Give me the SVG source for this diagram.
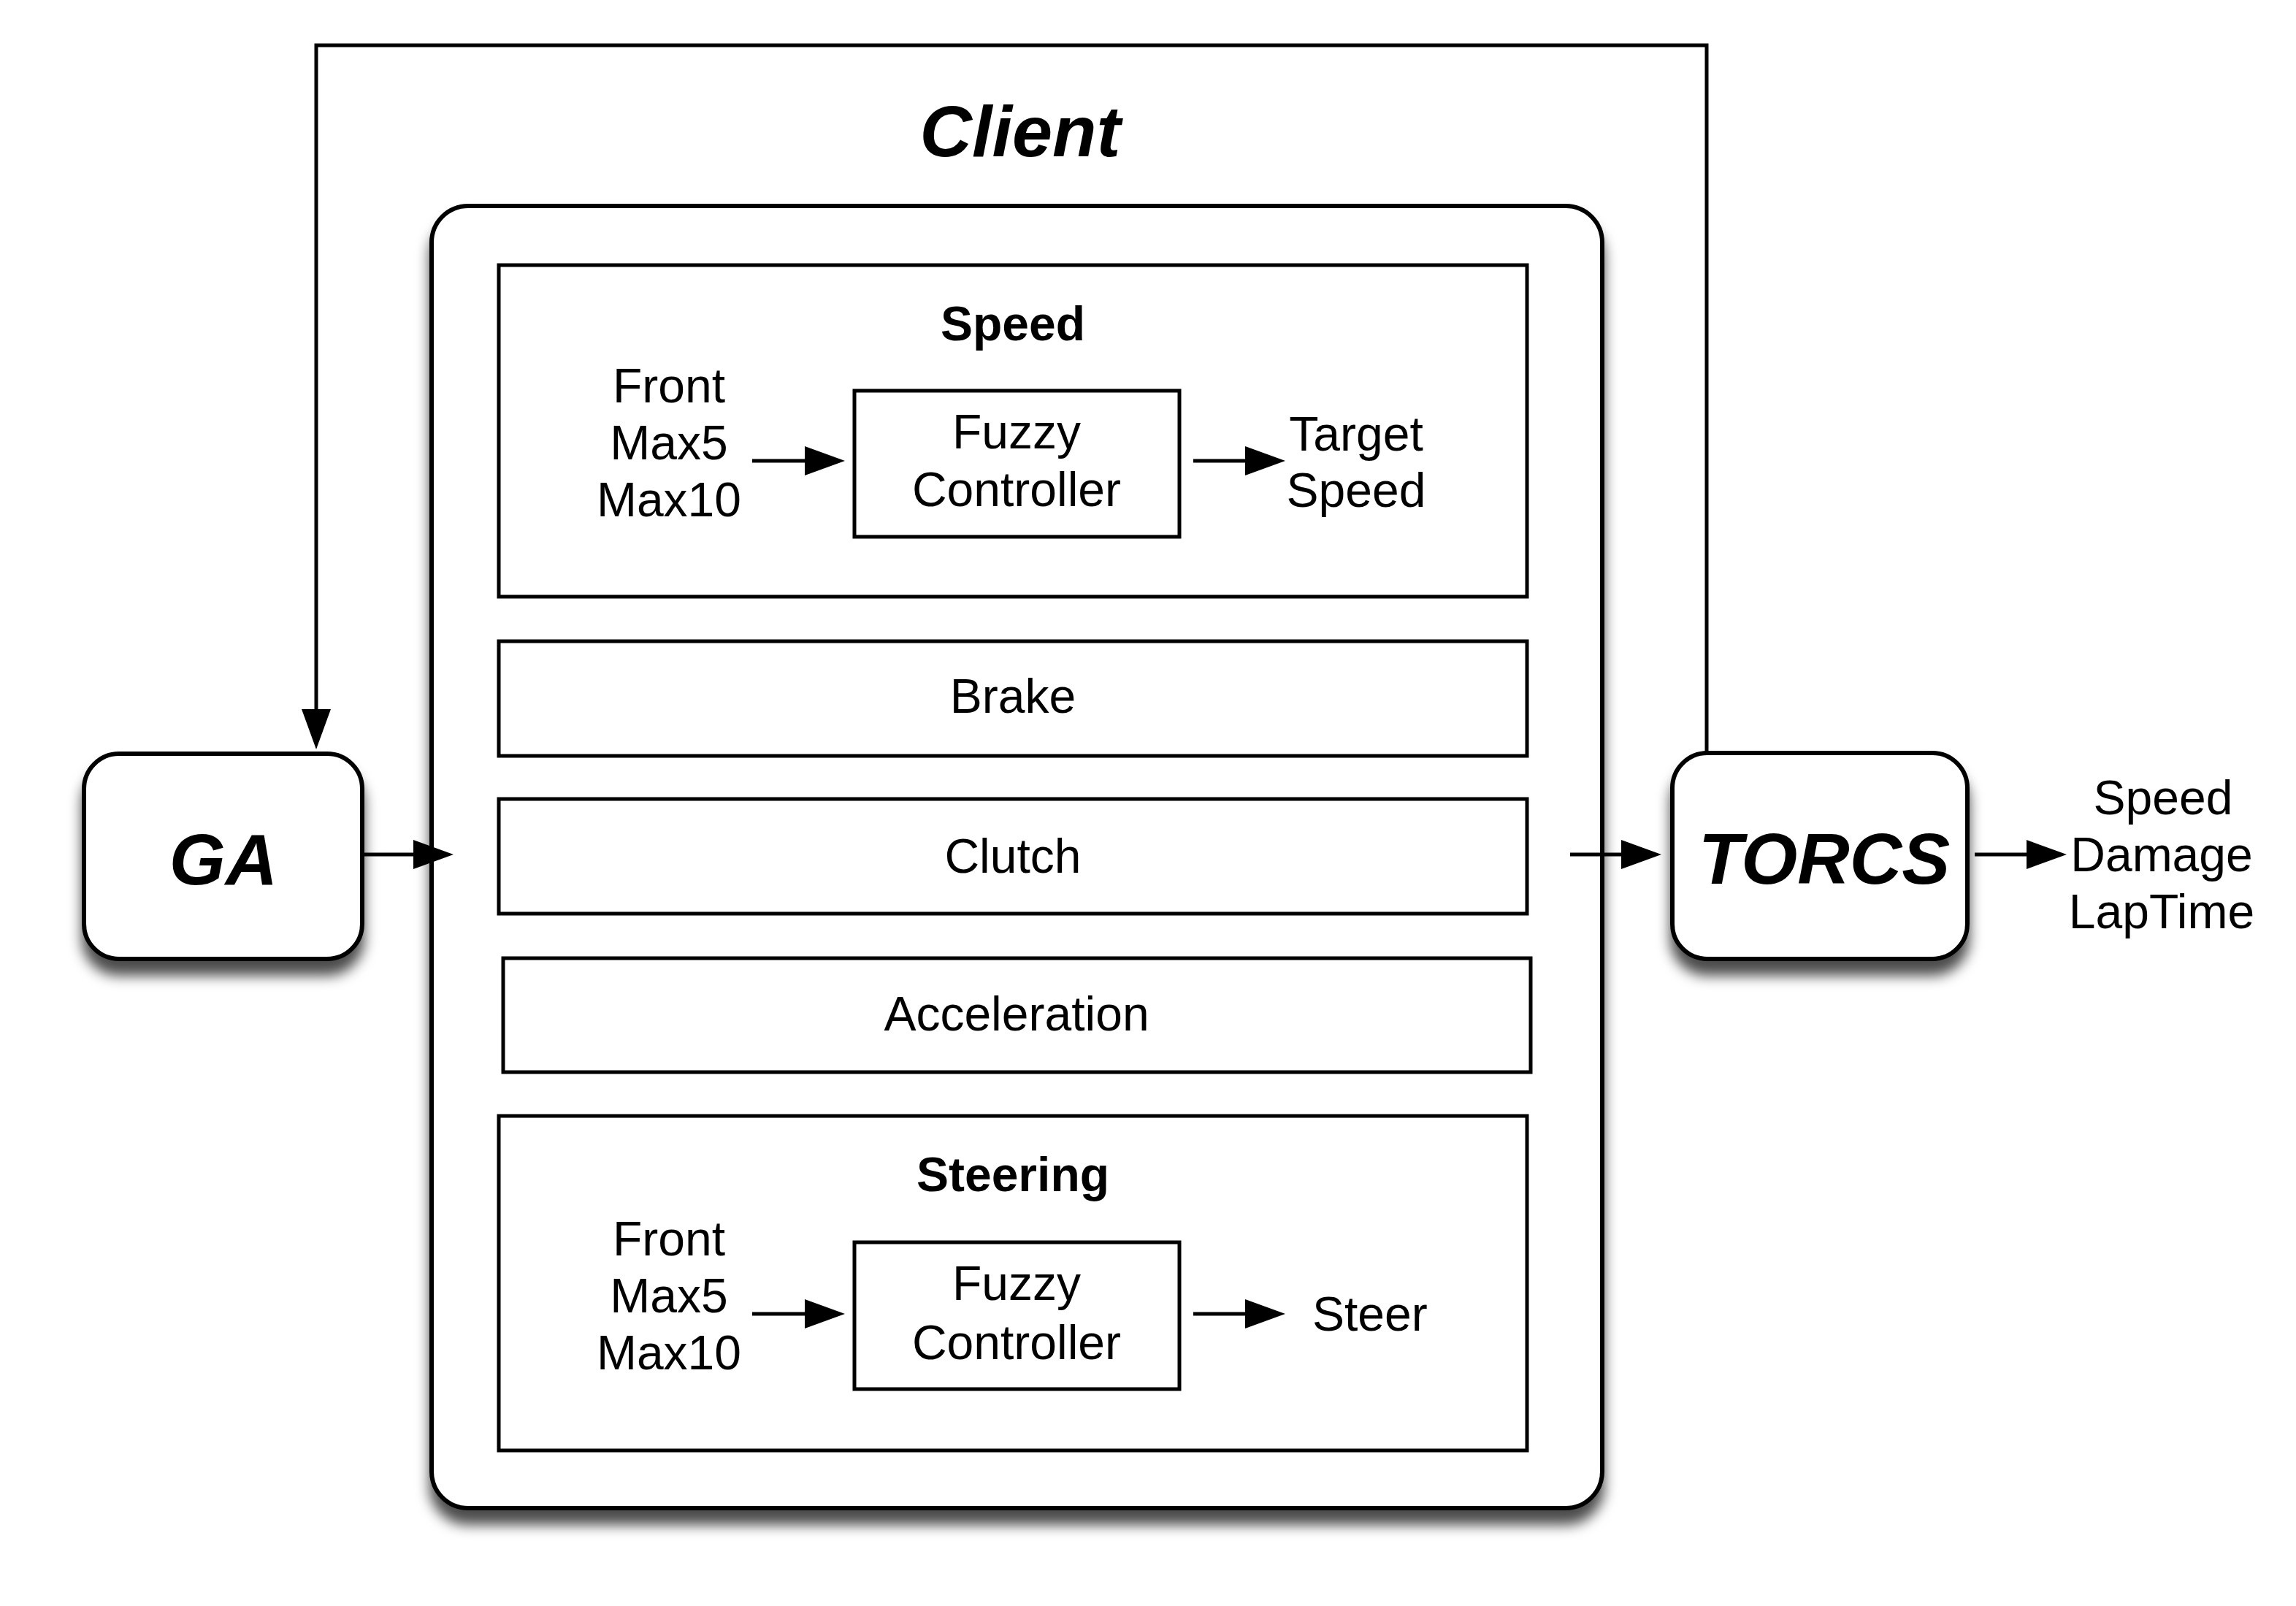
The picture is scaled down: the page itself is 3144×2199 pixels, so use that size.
<svg xmlns="http://www.w3.org/2000/svg" width="3144" height="2199" viewBox="0 0 3144 2199">
<style>
.box{fill:#fff;stroke:#000;stroke-width:5}
.rbox{fill:#fff;stroke:#000;stroke-width:6;filter:url(#shadow)}
.con{fill:none;stroke:#000;stroke-width:5;marker-end:url(#arrow)}
text{font-family:"Liberation Sans",Arial,Helvetica,sans-serif;fill:#000;text-anchor:middle}
.t{font-size:66px}
.b{font-size:66px;font-weight:bold}
.big{font-size:99px;font-weight:bold;font-style:italic}
</style>
<defs>
<filter id="shadow" x="-10%" y="-10%" width="120%" height="130%">
<feDropShadow dx="0" dy="20" stdDeviation="9" flood-color="#000" flood-opacity="0.7"/>
</filter>
<marker id="arrow" markerUnits="userSpaceOnUse" markerWidth="55" markerHeight="40" viewBox="0 0 55 40" refX="35" refY="20" orient="auto">
<path d="M0,0 L55,20 L0,40 Z" fill="#000"/>
</marker>
</defs>
<rect width="3144" height="2199" fill="#fff"/>
<g id="client">
<rect class="rbox" x="591" y="282" width="1603" height="1783" rx="50"/>
<text class="big" x="1397" y="214">Client</text>
</g>
<g id="speed">
<rect class="box" x="683" y="363" width="1408" height="454"/>
<text class="b" x="1387" y="466">Speed</text>
<text class="t" x="916" y="551">Front</text>
<text class="t" x="916" y="629">Max5</text>
<text class="t" x="916" y="707">Max10</text>
<text class="t" x="1857" y="617">Target</text>
<text class="t" x="1857" y="694">Speed</text>
</g>
<g id="speed-fuzzy">
<rect class="box" x="1170" y="535" width="445" height="200"/>
<text class="t" x="1392" y="614">Fuzzy</text>
<text class="t" x="1392" y="693">Controller</text>
</g>
<g id="brake">
<rect class="box" x="683" y="878" width="1408" height="157"/>
<text class="t" x="1387" y="976">Brake</text>
</g>
<g id="clutch">
<rect class="box" x="683" y="1094" width="1408" height="157"/>
<text class="t" x="1387" y="1195">Clutch</text>
</g>
<g id="acceleration">
<rect class="box" x="689" y="1312" width="1407" height="156"/>
<text class="t" x="1392" y="1411">Acceleration</text>
</g>
<g id="steering">
<rect class="box" x="683" y="1528" width="1408" height="458"/>
<text class="b" x="1387" y="1631">Steering</text>
<text class="t" x="916" y="1719">Front</text>
<text class="t" x="916" y="1797">Max5</text>
<text class="t" x="916" y="1875">Max10</text>
<text class="t" x="1797" y="1822" style="text-anchor:start">Steer</text>
</g>
<g id="steering-fuzzy">
<rect class="box" x="1170" y="1701" width="445" height="201"/>
<text class="t" x="1392" y="1780">Fuzzy</text>
<text class="t" x="1392" y="1861">Controller</text>
</g>
<g id="ga">
<rect class="rbox" x="115" y="1032" width="381" height="281" rx="48"/>
<text class="big" x="306" y="1211">GA</text>
</g>
<g id="torcs">
<rect class="rbox" x="2290" y="1031" width="404" height="282" rx="48"/>
<text class="big" x="2498" y="1210">TORCS</text>
</g>
<g id="outputs">
<text class="t" x="2962" y="1115">Speed</text>
<text class="t" x="2960" y="1193">Damage</text>
<text class="t" x="2960" y="1271">LapTime</text>
</g>
<g id="connectors">
<polyline class="con" points="2337,1031 2337,62 433,62 433,1006"/>
<line class="con" x1="496" y1="1170" x2="601" y2="1170"/>
<line class="con" x1="2150" y1="1170" x2="2255" y2="1170"/>
<line class="con" x1="2704" y1="1170" x2="2810" y2="1170"/>
<line class="con" x1="1030" y1="631" x2="1137" y2="631"/>
<line class="con" x1="1634" y1="631" x2="1740" y2="631"/>
<line class="con" x1="1030" y1="1799" x2="1137" y2="1799"/>
<line class="con" x1="1634" y1="1799" x2="1740" y2="1799"/>
</g>
</svg>
